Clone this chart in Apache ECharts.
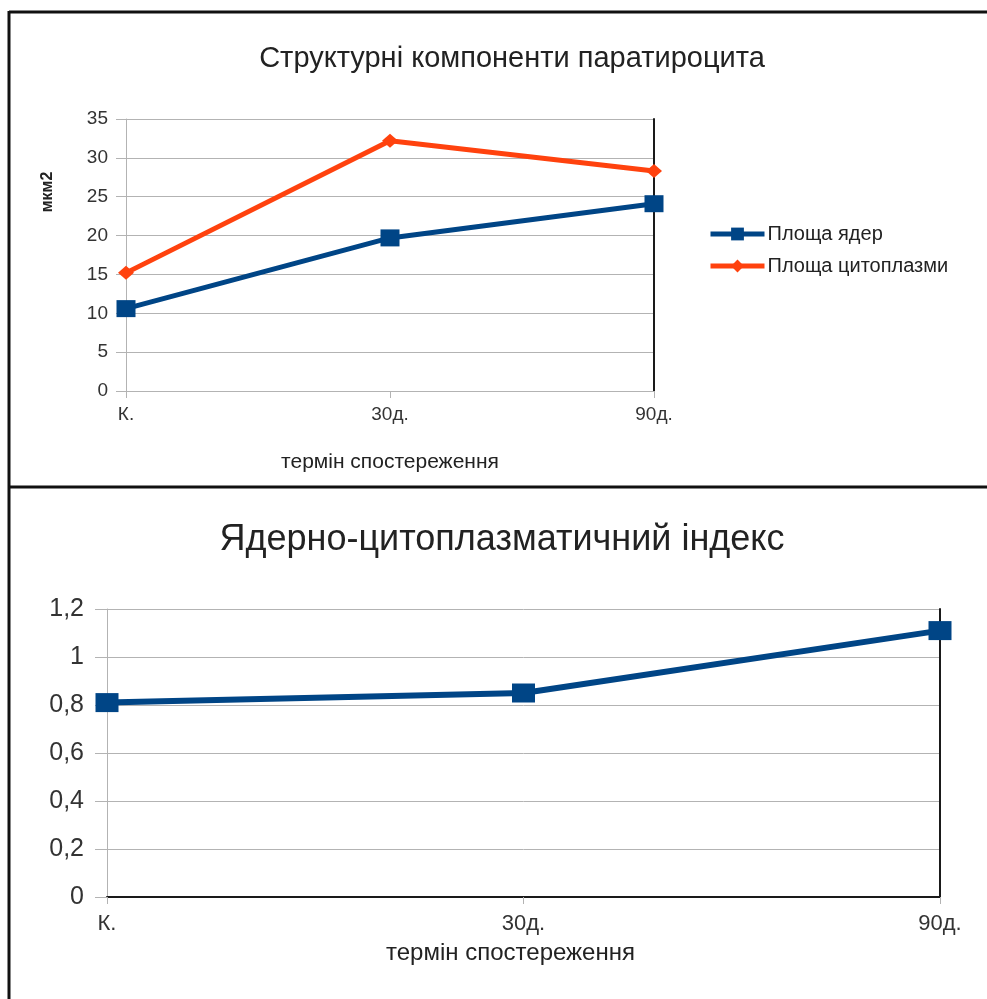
<!DOCTYPE html>
<html>
<head>
<meta charset="utf-8">
<script src="https://cdn.jsdelivr.net/npm/echarts@6/dist/echarts.min.js"></script>
<style>
  html, body { margin: 0; padding: 0; background: #fff; }
  #chart { width: 987px; height: 999px; }
</style>
</head>
<body>
<div id="chart"></div>
<script>
// Observation terms (shared by both panels)
const terms = ['К.', '30д.', '90д.'];

// Upper panel: areas, мкм2
const nucleusArea = [10.6, 19.7, 24.1];
const cytoplasmArea = [15.2, 32.2, 28.3];

// Lower panel: nuclear-cytoplasmic index
const ncIndex = [0.81, 0.85, 1.11];

const topTitle = 'Структурні компоненти паратироцита';
const bottomTitle = 'Ядерно-цитоплазматичний індекс';
const xName = 'термін спостереження';
const yUnit = 'мкм2';

const BLUE = '#004586';
const ORANGE = '#ff420e';
const SANS = "'Liberation Sans', Arial, sans-serif";

const chart = echarts.init(document.getElementById('chart'), null, { renderer: 'canvas' });

const gridLine = { show: true, lineStyle: { color: '#b3b3b3', width: 1 } };

chart.setOption({
  animation: false,
  backgroundColor: '#fff',
  title: [
    { text: topTitle, left: 507, top: 39, textAlign: 'center',
      textStyle: { fontFamily: SANS, fontSize: 29, fontWeight: 'normal', color: '#222' } },
    { text: bottomTitle, left: 497, top: 517, textAlign: 'center',
      textStyle: { fontFamily: SANS, fontSize: 36, fontWeight: 'normal', color: '#222' } }
  ],
  legend: {
    left: 703, top: 219, orient: 'vertical', itemGap: 12,
    itemWidth: 54, itemHeight: 16,
    lineStyle: { width: 5 },
    textStyle: { fontFamily: SANS, fontSize: 20, color: '#222', padding: [0, 0, 0, -2] },
    data: ['Площа ядер', 'Площа цитоплазми']
  },
  grid: [
    { left: 126, right: 333, top: 119, bottom: 608 },
    { left: 107, right: 47, top: 609, bottom: 102 }
  ],
  xAxis: [
    { type: 'category', gridIndex: 0, data: terms, boundaryGap: false,
      axisLine: { lineStyle: { color: '#b3b3b3' } },
      axisTick: { show: true, length: 7, lineStyle: { color: '#b3b3b3' } },
      axisLabel: { fontFamily: SANS, fontSize: 19, color: '#333', margin: 14 },
      splitLine: { show: false },
      name: xName, nameLocation: 'middle', nameGap: 61,
      nameTextStyle: { fontFamily: SANS, fontSize: 21, color: '#222' } },
    { type: 'category', gridIndex: 1, data: terms, boundaryGap: false,
      axisLine: { lineStyle: { color: '#b3b3b3' } },
      axisTick: { show: true, length: 7, lineStyle: { color: '#b3b3b3' } },
      axisLabel: { fontFamily: SANS, fontSize: 22, color: '#333', margin: 16 },
      splitLine: { show: false },
      name: xName, nameLocation: 'middle', nameGap: 44,
      nameTextStyle: { fontFamily: SANS, fontSize: 24, color: '#222', padding: [0, 26, 0, 0] } },
    // dark frame line along the top of the lower plot
    { type: 'category', gridIndex: 1, data: terms, boundaryGap: false, position: 'top',
      axisLine: { lineStyle: { color: '#1a1a1a', width: 2 } },
      axisTick: { show: false }, axisLabel: { show: false }, splitLine: { show: false } }
  ],
  yAxis: [
    { type: 'value', gridIndex: 0, min: 0, max: 35, interval: 5,
      axisLine: { show: true, lineStyle: { color: '#b3b3b3' } },
      axisTick: { show: true, length: 10, lineStyle: { color: '#b3b3b3' } },
      axisLabel: { fontFamily: SANS, fontSize: 19, color: '#333', margin: 18 },
      splitLine: gridLine },
    // dark frame line on the right of the upper plot
    { type: 'value', gridIndex: 0, min: 0, max: 35, interval: 5, position: 'right',
      axisLine: { show: true, lineStyle: { color: '#1a1a1a', width: 2 } },
      axisTick: { show: false }, axisLabel: { show: false }, splitLine: { show: false } },
    { type: 'value', gridIndex: 1, min: 0, max: 1.2, interval: 0.2,
      axisLine: { show: true, lineStyle: { color: '#b3b3b3' } },
      axisTick: { show: true, length: 12, lineStyle: { color: '#b3b3b3' } },
      axisLabel: { fontFamily: SANS, fontSize: 25, color: '#333', margin: 23,
        formatter: v => String(+v.toFixed(1)).replace('.', ',') },
      splitLine: gridLine },
    // dark frame line on the right of the lower plot
    { type: 'value', gridIndex: 1, min: 0, max: 1.2, interval: 0.2, position: 'right',
      axisLine: { show: true, lineStyle: { color: '#1a1a1a', width: 2 } },
      axisTick: { show: false }, axisLabel: { show: false }, splitLine: { show: false } }
  ],
  graphic: [
    // panel frames
    { type: 'line', shape: { x1: 9, y1: 12, x2: 987, y2: 12 }, style: { stroke: '#111', lineWidth: 3 } },
    { type: 'line', shape: { x1: 9, y1: 11, x2: 9, y2: 999 }, style: { stroke: '#111', lineWidth: 3 } },
    { type: 'line', shape: { x1: 9, y1: 487, x2: 987, y2: 487 }, style: { stroke: '#111', lineWidth: 3 } },
    // unit label of the upper value axis
    { type: 'text', x: 48, y: 192, rotation: Math.PI / 2,
      style: { text: yUnit, fontFamily: SANS, fontSize: 16, fontWeight: 'bold', fill: '#222',
        align: 'center', verticalAlign: 'middle' } }
  ],
  series: [
    { name: 'Площа ядер', type: 'line', xAxisIndex: 0, yAxisIndex: 0,
      data: nucleusArea, symbol: 'rect', symbolSize: [19, 17],
      lineStyle: { color: BLUE, width: 5 }, itemStyle: { color: BLUE }, z: 3 },
    { name: 'Площа цитоплазми', type: 'line', xAxisIndex: 0, yAxisIndex: 0,
      data: cytoplasmArea, symbol: 'diamond', symbolSize: [16, 14],
      lineStyle: { color: ORANGE, width: 5 }, itemStyle: { color: ORANGE }, z: 3 },
    { name: 'Ядерно-цитоплазматичний індекс', type: 'line', xAxisIndex: 1, yAxisIndex: 2,
      data: ncIndex, symbol: 'rect', symbolSize: [23, 19],
      lineStyle: { color: BLUE, width: 6 }, itemStyle: { color: BLUE }, z: 3 }
  ]
});
</script>
</body>
</html>
